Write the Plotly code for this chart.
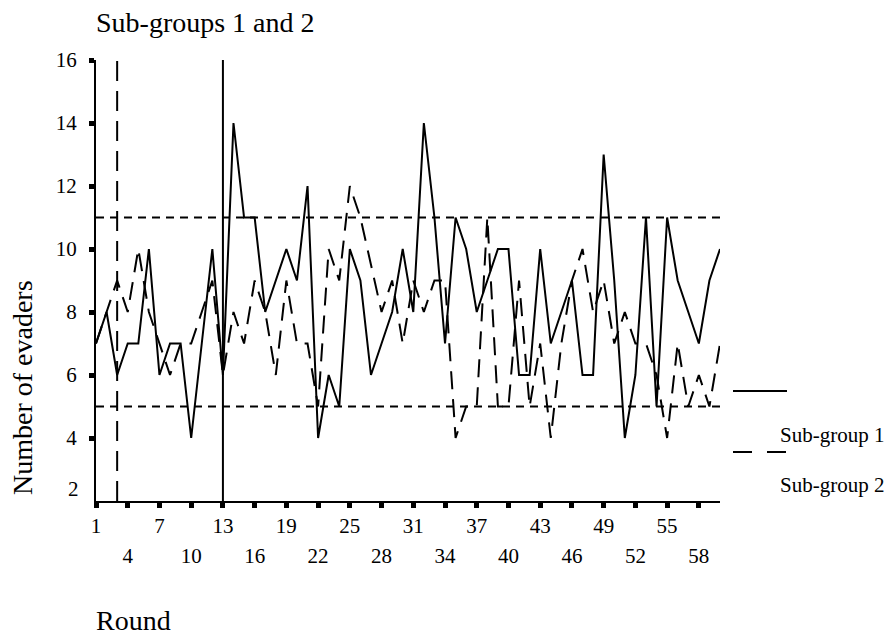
import plotly.graph_objects as go

rounds = list(range(1, 61))
sub_group_1 = [7, 8, 6, 7, 7, 10, 6, 7, 7, 4,
               7, 10, 6, 14, 11, 11, 8, 9, 10, 9,
               12, 4, 6, 5, 10, 9, 6, 7, 8, 10,
               8, 14, 11, 7, 11, 10, 8, 9, 10, 10,
               6, 6, 10, 7, 8, 9, 6, 6, 13, 9,
               4, 6, 11, 5, 11, 9, 8, 7, 9, 10]
sub_group_2 = [7, 8, 9, 8, 10, 8, 7, 6, 7, 7,
               8, 9, 6, 8, 7, 9, 8, 6, 9, 7,
               7, 5, 10, 9, 12, 11, 9.5, 8, 9, 7,
               9, 8, 9, 9, 4, 5, 5, 11, 5, 5,
               9, 5, 7, 4, 7, 9, 10, 8, 9, 7,
               8, 7, 7, 6, 4, 7, 5, 6, 5, 7]
upper_limit = 11
lower_limit = 5
marker_rounds_dashed = [3]
marker_rounds_solid = [13]
y_ticks = [4, 6, 8, 10, 12, 14, 16]
x_ticks = list(range(1, 61, 3))
x_row1 = list(range(1, 61, 6))
x_row2 = list(range(4, 61, 6))

FONT = "Liberation Serif"
W, H = 886, 637
L, R, T, B = 96, 166, 60, 136
PW, PH = W - L - R, H - T - B


def px(xp):
    return (xp - L) / PW


def py(yp):
    return (H - B - yp) / PH


fig = go.Figure()
fig.add_trace(go.Scatter(x=rounds, y=sub_group_1, mode="lines",
                         line=dict(color="black", width=2), showlegend=False))
fig.add_trace(go.Scatter(x=rounds, y=sub_group_2, mode="lines",
                         line=dict(color="black", width=2, dash="18px,10px"),
                         showlegend=False))

for yv in (upper_limit, lower_limit):
    fig.add_shape(type="line", xref="x", yref="y", x0=1, x1=60, y0=yv, y1=yv,
                  line=dict(color="black", width=2, dash="8px,6px"))
for xv in marker_rounds_dashed:
    fig.add_shape(type="line", xref="x", yref="y", x0=xv, x1=xv, y0=2, y1=16,
                  line=dict(color="black", width=2, dash="20px,10px"))
for xv in marker_rounds_solid:
    fig.add_shape(type="line", xref="x", yref="y", x0=xv, x1=xv, y0=2, y1=16,
                  line=dict(color="black", width=2))

# legend drawn manually
fig.add_shape(type="line", xref="paper", yref="paper", x0=px(733), x1=px(787),
              y0=py(391), y1=py(391), line=dict(color="black", width=2))
fig.add_shape(type="line", xref="paper", yref="paper", x0=px(733), x1=px(787),
              y0=py(452), y1=py(452), line=dict(color="black", width=2, dash="19px,15px"))
fig.add_annotation(text="Sub-group 1", xref="paper", yref="paper", x=px(778), y=py(435),
                   xanchor="left", yanchor="middle", showarrow=False,
                   font=dict(family=FONT, size=21, color="black"))
fig.add_annotation(text="Sub-group 2", xref="paper", yref="paper", x=px(778), y=py(485),
                   xanchor="left", yanchor="middle", showarrow=False,
                   font=dict(family=FONT, size=21, color="black"))

fig.add_annotation(text="Sub-groups 1 and 2", xref="paper", yref="paper", x=px(94), y=py(22),
                   xanchor="left", yanchor="middle", showarrow=False,
                   font=dict(family=FONT, size=28, color="black"))
fig.add_annotation(text="Number of evaders", xref="paper", yref="paper", x=px(22), y=py(388),
                   xanchor="center", yanchor="middle", textangle=-90, showarrow=False,
                   font=dict(family=FONT, size=28, color="black"))
fig.add_annotation(text="Round", xref="paper", yref="paper", x=px(94), y=py(620),
                   xanchor="left", yanchor="middle", showarrow=False,
                   font=dict(family=FONT, size=28, color="black"))
fig.add_annotation(text="2", xref="paper", yref="y", x=px(81), y=2, yshift=12,
                   xanchor="right", yanchor="middle", showarrow=False,
                   font=dict(family=FONT, size=21, color="black"))

fig.update_layout(
    width=W, height=H, autosize=False,
    margin=dict(l=L, r=R, t=T, b=B, pad=0),
    paper_bgcolor="white", plot_bgcolor="white",
    font=dict(family=FONT, size=21, color="black"),
    xaxis=dict(range=[1, 60], tickvals=x_ticks,
               ticktext=[str(v) if v in x_row1 else "" for v in x_ticks],
               ticks="outside", ticklen=5, tickwidth=5, tickcolor="black",
               showline=True, linecolor="black", linewidth=2, showgrid=False,
               zeroline=False, tickangle=0, ticklabelstandoff=0),
    xaxis2=dict(range=[1, 60], overlaying="x", anchor="y", side="bottom",
                tickvals=x_row2, ticktext=[str(v) for v in x_row2],
                ticks="", showline=False, showgrid=False, zeroline=False,
                tickangle=0, ticklabelstandoff=40),
    yaxis=dict(range=[2, 16], tickvals=y_ticks,
               ticks="outside", ticklen=5, tickwidth=5, tickcolor="black",
               showline=True, linecolor="black", linewidth=2, showgrid=False,
               zeroline=False, ticklabelstandoff=8),
)
# dummy trace to activate xaxis2
fig.add_trace(go.Scatter(x=[1], y=[2], xaxis="x2", yaxis="y", mode="markers",
                         marker=dict(opacity=0), showlegend=False, hoverinfo="skip"))

fig.write_html("out.html")
